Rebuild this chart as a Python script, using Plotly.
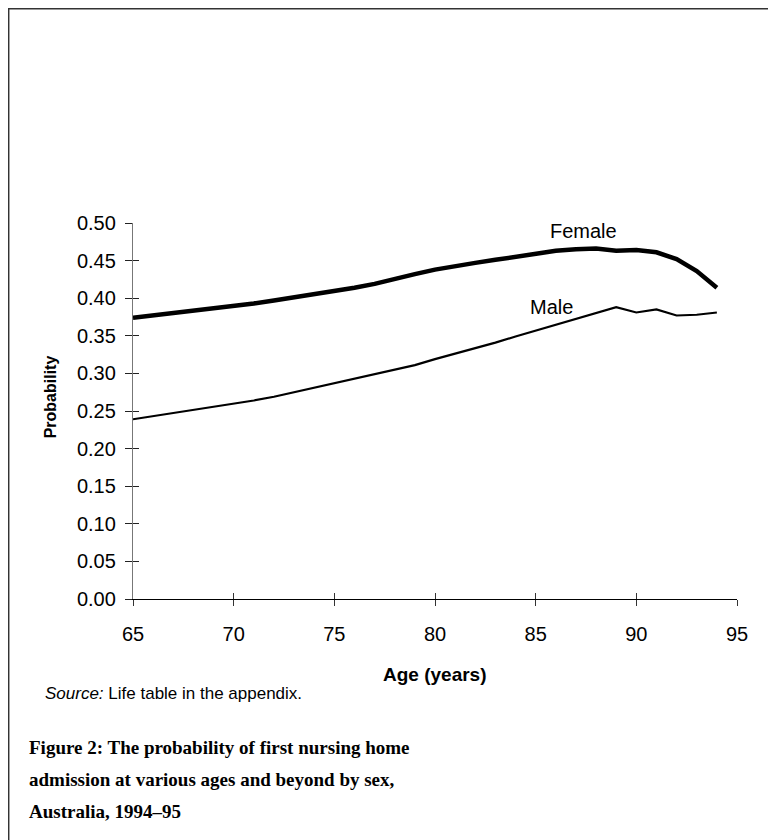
import plotly.graph_objects as go

ages = list(range(65, 95))
female = [0.374, 0.377, 0.380, 0.383, 0.386, 0.389, 0.393, 0.397, 0.401, 0.405,
          0.409, 0.414, 0.419, 0.426, 0.432, 0.438, 0.443, 0.447, 0.451, 0.455,
          0.459, 0.463, 0.465, 0.466, 0.463, 0.464, 0.461, 0.452, 0.436, 0.414]
male = [0.239, 0.243, 0.247, 0.251, 0.255, 0.259, 0.264, 0.269, 0.275, 0.281,
        0.286, 0.292, 0.298, 0.304, 0.311, 0.319, 0.326, 0.333, 0.341, 0.349,
        0.357, 0.365, 0.373, 0.381, 0.388, 0.381, 0.385, 0.377, 0.378, 0.381]
x_ticks = [65, 70, 75, 80, 85, 90, 95]
y_ticks = [0.00, 0.05, 0.10, 0.15, 0.20, 0.25, 0.30, 0.35, 0.40, 0.45, 0.50]
y_tick_labels = [f"{v:.2f}" for v in y_ticks]

SANS = "Liberation Sans, Arial, sans-serif"
SERIF = "Liberation Serif, Times New Roman, serif"

fig = go.Figure()
fig.add_trace(go.Scatter(x=ages, y=female, mode="lines", name="Female",
                         line=dict(color="black", width=4.5), hoverinfo="skip"))
fig.add_trace(go.Scatter(x=ages, y=male, mode="lines", name="Male",
                         line=dict(color="black", width=2.2), hoverinfo="skip"))
# invisible trace so the overlay axes (inside half of the crossing ticks) render
fig.add_trace(go.Scatter(x=[65], y=[0], xaxis="x2", yaxis="y2", mode="markers",
                         marker=dict(opacity=0), hoverinfo="skip", showlegend=False))

common_x = dict(range=[65, 95], tickmode="array", tickvals=x_ticks,
                showgrid=False, zeroline=False)
common_y = dict(range=[0, 0.5], tickmode="array", tickvals=y_ticks,
                showgrid=False, zeroline=False)

fig.update_layout(
    width=768, height=832,
    margin=dict(l=125, r=39, t=215, b=241),
    paper_bgcolor="white", plot_bgcolor="white",
    showlegend=False,
    font=dict(family=SANS, color="black", size=20),
    xaxis=dict(**common_x, ticks="outside", ticklen=6, tickwidth=1.2, tickcolor="#333",
               showline=True, linecolor="black", linewidth=1.3,
               ticktext=[str(v) for v in x_ticks],
               tickfont=dict(size=20, family=SANS), ticklabelstandoff=11),
    yaxis=dict(**common_y, ticks="outside", ticklen=7, tickwidth=1.2, tickcolor="#222",
               showline=True, linecolor="#777", linewidth=1.3,
               ticktext=y_tick_labels,
               tickfont=dict(size=20, family=SANS), ticklabelstandoff=5),
    xaxis2=dict(**common_x, overlaying="x", anchor="y2", side="bottom",
                ticks="inside", ticklen=6, tickwidth=1.2, tickcolor="#333",
                showticklabels=False, showline=False),
    yaxis2=dict(**common_y, overlaying="y", anchor="x2", side="left",
                ticks="inside", ticklen=6, tickwidth=1.2, tickcolor="#222",
                showticklabels=False, showline=False),
)

annotations = [
    dict(x=87.4, y=0.489, xref="x", yref="y", text="Female", showarrow=False,
         xanchor="center", yanchor="middle", font=dict(size=20, family=SANS)),
    dict(x=85.8, y=0.388, xref="x", yref="y", text="Male", showarrow=False,
         xanchor="center", yanchor="middle", font=dict(size=20, family=SANS)),
    dict(x=-0.137, y=0.537, xref="paper", yref="paper", text="<b>Probability</b>",
         textangle=-90, showarrow=False, xanchor="center", yanchor="middle",
         font=dict(size=16, family=SANS)),
    dict(x=0.5, y=-0.202, xref="paper", yref="paper", text="<b>Age (years)</b>",
         showarrow=False, xanchor="center", yanchor="middle",
         font=dict(size=19, family=SANS)),
    dict(x=-0.1485, y=-0.25, xref="paper", yref="paper", xanchor="left", yanchor="middle",
         text="<i>Source:</i> Life table in the appendix.", showarrow=False,
         font=dict(size=17, family=SANS)),
    dict(x=-0.1755, y=-0.396, xref="paper", yref="paper", xanchor="left", yanchor="middle",
         text="<b>Figure 2: The probability of first nursing home</b>", showarrow=False,
         font=dict(size=19, family=SERIF)),
    dict(x=-0.1755, y=-0.480, xref="paper", yref="paper", xanchor="left", yanchor="middle",
         text="<b>admission at various ages and beyond by sex,</b>", showarrow=False,
         font=dict(size=19, family=SERIF)),
    dict(x=-0.1755, y=-0.564, xref="paper", yref="paper", xanchor="left", yanchor="middle",
         text="<b>Australia, 1994–95</b>", showarrow=False,
         font=dict(size=19, family=SERIF)),
]
fig.update_layout(annotations=annotations)

# outer frame (extends past the right and bottom edges)
fig.add_shape(type="rect", xref="paper", yref="paper",
              x0=(8.6 - 133) / 604, x1=(800 - 133) / 604,
              y0=(599 - 860) / 376, y1=(599 - 8.6) / 376,
              line=dict(color="#333", width=1.7), fillcolor="rgba(0,0,0,0)", layer="below")

fig.write_html("out.html")
